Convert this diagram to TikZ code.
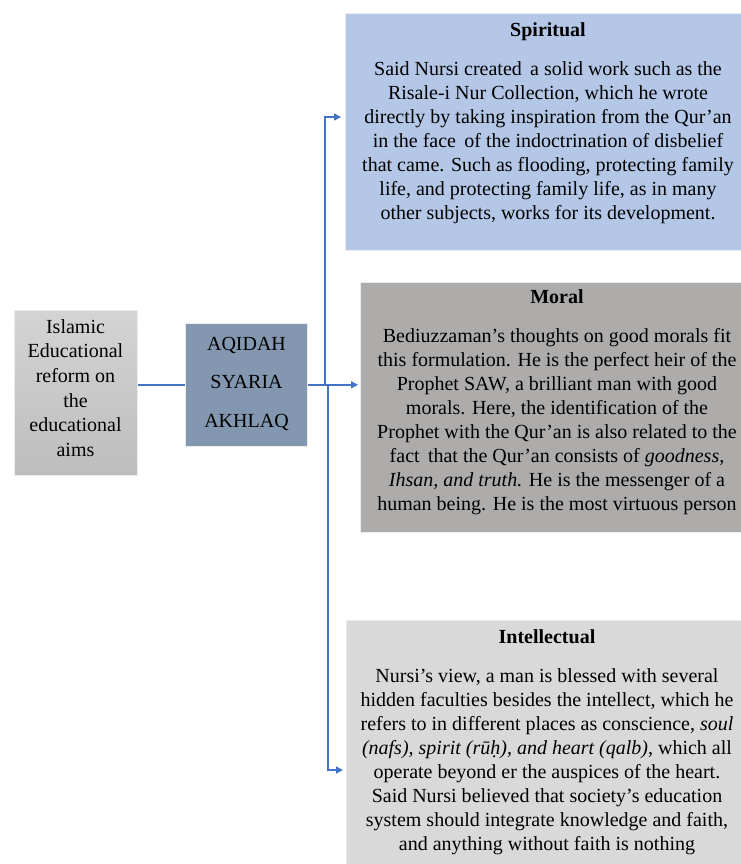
\documentclass[tikz,border=0pt]{standalone}
\usepackage{fontspec}
\setmainfont{Liberation Serif}
\usetikzlibrary{arrows.meta}
\definecolor{spirc}{HTML}{B4C7E7}
\definecolor{moralc}{HTML}{AEABAB}
\definecolor{intelc}{HTML}{D9D9D9}
\definecolor{aqc}{HTML}{8497B0}
\definecolor{lefttop}{HTML}{D4D4D4}
\definecolor{leftbot}{HTML}{BDBDBD}
\definecolor{linec}{HTML}{4472C4}
\tikzset{
  box/.style={rectangle, inner sep=0pt, draw=white!85!gray, line width=0.6bp, anchor=north west},
  txt/.style={inner sep=0pt, align=center, anchor=north, font={\fontsize{20bp}{24bp}\selectfont}},
  conn/.style={draw=linec, line width=1.6bp, -{Triangle[length=7bp,width=7bp]}},
  plain/.style={draw=linec, line width=1.6bp}
}
\begin{document}
\begin{tikzpicture}[x=1bp, y=-1bp]
\useasboundingbox[fill=white] (0,0) rectangle (741,864);
% boxes
\node[box, top color=lefttop, bottom color=leftbot, minimum width=123bp, minimum height=165bp] (left) at (14,310) {};
\node[box, fill=aqc, minimum width=122bp, minimum height=123bp] (aq) at (185,323) {};
\node[box, fill=spirc, minimum width=406bp, minimum height=237bp] (spir) at (345,13) {};
\node[box, fill=moralc, minimum width=394bp, minimum height=250bp] (moral) at (360,282) {};
\node[box, fill=intelc, minimum width=402bp, minimum height=260bp] (intel) at (346,620) {};
% texts
\node[txt, font={\fontsize{20bp}{24.7bp}\selectfont}] (lefttxt) at (75.5,319) {Islamic\\Educational\\reform on\\the\\educational\\aims};
\node[txt, font={\fontsize{20bp}{38.5bp}\selectfont}] (aqtxt) at (246.5,337) {AQIDAH\\SYARIA\\AKHLAQ};
\node[txt] (spirtxt) at (548,22.3) {\textbf{Spiritual}\\[15bp]
Said Nursi created\, a solid work such as the\\
Risale-i Nur Collection, which he wrote\\
directly by taking inspiration from the Qur'an\\
in the face\, of the indoctrination of disbelief\\
that came. Such as flooding, protecting family\\
life, and protecting family life, as in many\\
other subjects, works for its development.};
\node[txt] (moraltxt) at (557,289.3) {\textbf{Moral}\\[15bp]
Bediuzzaman's thoughts on good morals fit\\
this formulation. He is the perfect heir of the\\
Prophet SAW, a brilliant man with good\\
morals. Here, the identification of the\\
Prophet with the Qur'an is also related to the\\
fact\, that the Qur'an consists of \textit{goodness,}\\
\textit{Ihsan, and truth.} He is the messenger of a\\
human being. He is the most virtuous person};
\node[txt] (inteltxt) at (547,629.8) {\textbf{Intellectual}\\[15bp]
Nursi's view, a man is blessed with several\\
hidden faculties besides the intellect, which he\\
refers to in different places as conscience, \textit{soul}\\
\textit{(nafs), spirit (rūḥ), and heart (qalb)}, which all\\
operate beyond er the auspices of the heart.\\
Said Nursi believed that society's education\\
system should integrate knowledge and faith,\\
and anything without faith is nothing};
% connectors
\coordinate (j1) at (325,384.5);
\coordinate (j2) at (328,384.5);
\coordinate (spirin) at (345,117);
\coordinate (intelin) at (346,770);
\draw[plain] (left.east |- aq.west) -- (aq.west);
\draw[conn, shorten >=2bp] (aq.east) -- (moral.west |- aq.east);
\draw[conn, shorten >=4bp] (j1) |- (spirin);
\draw[conn, shorten >=3bp] (j2) |- (intelin);
\end{tikzpicture}
\end{document}
